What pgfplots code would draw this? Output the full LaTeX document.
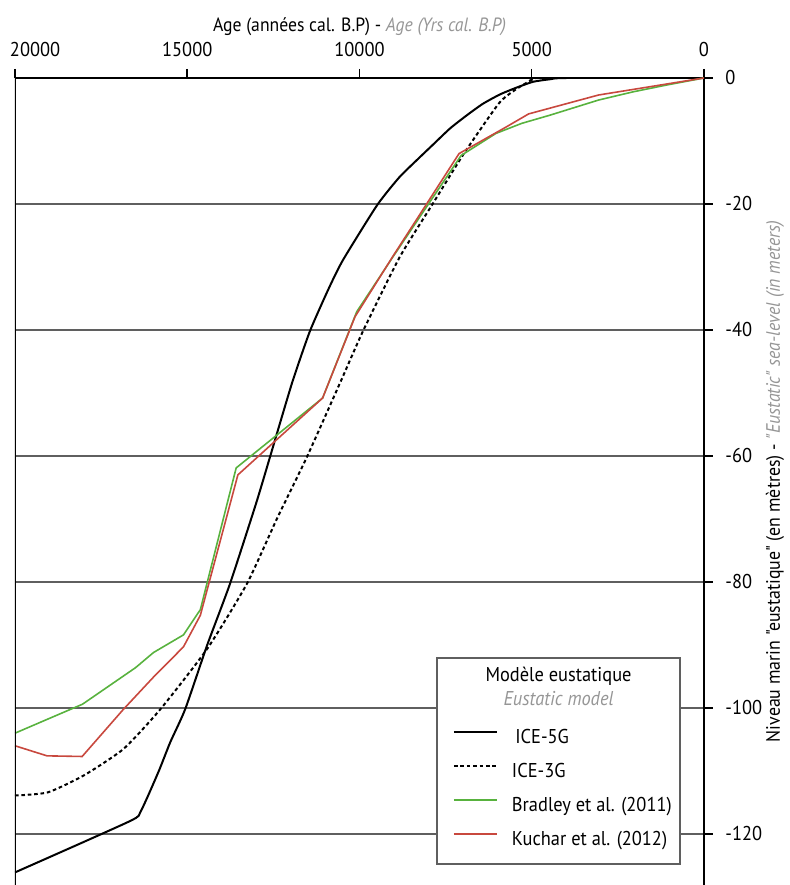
\documentclass[border=0pt]{standalone}
\usepackage{fontspec}
\setmainfont{PT Sans}[FakeStretch=0.92]
\newfontfamily\qfont{PT Sans}[FakeStretch=0.92]
\usepackage{pgfplots}
\pgfplotsset{compat=1.18}
\definecolor{bradley}{RGB}{88,178,62}
\definecolor{kuchar}{RGB}{200,72,62}
\definecolor{gridgray}{RGB}{95,95,95}
\definecolor{engray}{RGB}{150,150,150}
\begin{document}
\begin{tikzpicture}[font=\fontsize{10}{12}\selectfont]
\useasboundingbox (-7.5pt,0pt) rectangle (387.5pt,442.5pt);
\begin{axis}[
  scale only axis, width=344.5pt, height=403.5pt,
  at={(0pt,0pt)}, anchor=south west,
  x dir=reverse, xmin=0, xmax=20000, ymin=-128.1, ymax=0,
  axis x line=top, axis y line=right,
  axis line style={-, line width=0.75pt, black},
  tick align=outside, major tick length=4.5pt,
  tick style={black, line width=0.75pt},
  scaled x ticks=false, scaled y ticks=false,
  xtick={0,5000,10000,15000,20000},
  xticklabels={0,5000,10000,15000,\makebox[0pt][l]{\hspace{-2.5pt}20000}},
  ytick={0,-20,-40,-60,-80,-100,-120},
  yticklabels={0,-20,-40,-60,-80,-100,-120},
  ymajorgrids, grid style={gridgray, line width=0.7pt},
  xticklabel style={anchor=base, inner sep=0pt, yshift=6pt},
  yticklabel style={anchor=west, inner sep=0pt, xshift=6pt},
  xlabel={Age (années cal. B.P) - {\color{engray}\itshape Age (Yrs cal. B.P)}},
  every axis x label/.style={at={(axis description cs:0.5,1.058)}, anchor=base, font=\fontsize{9.6}{11}\selectfont},
  ylabel={\qfont Niveau marin "eustatique" (en mètres) - {\color{engray}\itshape "Eustatic" sea-level (in meters)}},
  every axis y label/.style={at={(axis description cs:1.1103,0.5)}, rotate=90, anchor=base, font=\fontsize{9.7}{11}\selectfont},
  legend style={at={(rel axis cs:0.6357,0.2032)}, anchor=north west, draw=none, fill=none,
    inner sep=0pt, outer sep=0pt, row sep=0pt,
    nodes={inner sep=0pt, text height=11pt, text depth=6pt},
    /tikz/every odd column/.append style={column sep=7pt}},
  legend cell align=left,
  legend image code/.code={\draw[#1] (0pt,3pt) -- (21.5pt,3pt);},
]
% legend frame and title
\draw[gridgray, line width=0.6pt, fill=white] (rel axis cs:0.6125,0.026) rectangle (rel axis cs:0.9652,0.2813);
\node[anchor=base] at (rel axis cs:0.7889,0.2516) {Modèle eustatique};
\node[anchor=base, text=engray, font=\fontsize{10}{12}\selectfont\itshape] at (rel axis cs:0.7889,0.2230) {Eustatic model};

% ICE-5G
\addplot[black, line width=1pt, smooth, tension=0.35] coordinates {
(20000,-126.1) (16680,-118.0) (16350,-116.4) (15840,-110.2) (15490,-105.4)
(15060,-100.2) (14420,-90.0) (13760,-80.3) (13000,-67.5) (12600,-60.2)
(12400,-56.5) (11940,-48.1) (11440,-40.2) (10900,-33.5) (10480,-28.9) (9490,-20.2)
(8850,-15.8) (8330,-13.0) (7870,-10.6) (7370,-8.0) (6880,-5.9) (6420,-4.1)
(5920,-2.6) (5430,-1.5) (4960,-0.6) (4470,-0.2) (3980,0) (0,0)};
\addlegendentry{\,ICE-5G}
% ICE-3G
\addplot[black, line width=1pt, dash pattern=on 1.8pt off 1.4pt, smooth, tension=0.35] coordinates {
(20000,-113.9) (19050,-113.4) (18000,-110.7) (16850,-106.5) (15780,-100.2)
(14420,-90.6) (13270,-80.3) (12400,-70.0) (11530,-60.2) (10540,-48.1)
(9900,-40.2) (8840,-28.5) (7900,-20.2) (7450,-16.2) (6910,-11.5)
(5950,-4.0) (5460,-1.8) (5000,-0.3) (4850,0) (0,0)};
\addlegendentry{ICE-3G}
% Bradley
\addplot[bradley, line width=0.8pt] coordinates {
(20000,-104.0) (18040,-99.4) (16500,-93.6) (15980,-91.2) (15110,-88.4)
(14620,-84.4) (13580,-61.9) (11070,-50.8) (10080,-37.1) (9030,-28.4)
(7050,-12.3) (6040,-8.8) (5290,-7.2) (4470,-5.9) (3060,-3.5) (2060,-2.2)
(1070,-1.1) (0,0)};
\addlegendentry{Bradley et al. (2011)}
% Kuchar
\addplot[kuchar, line width=0.8pt] coordinates {
(20000,-106.0) (19070,-107.6) (18050,-107.7) (16850,-100.2) (15980,-95.1)
(15110,-90.3) (14620,-85.3) (13530,-63.0) (11070,-50.8) (10130,-37.9)
(9030,-28.3) (7110,-12.0) (5750,-7.8) (5090,-5.7) (3060,-2.7) (0,0)};
\addlegendentry{Kuchar et al. (2012)}
\draw[black, line width=0.75pt] (rel axis cs:0,0) -- (rel axis cs:0,1);
\end{axis}
\end{tikzpicture}
\end{document}
